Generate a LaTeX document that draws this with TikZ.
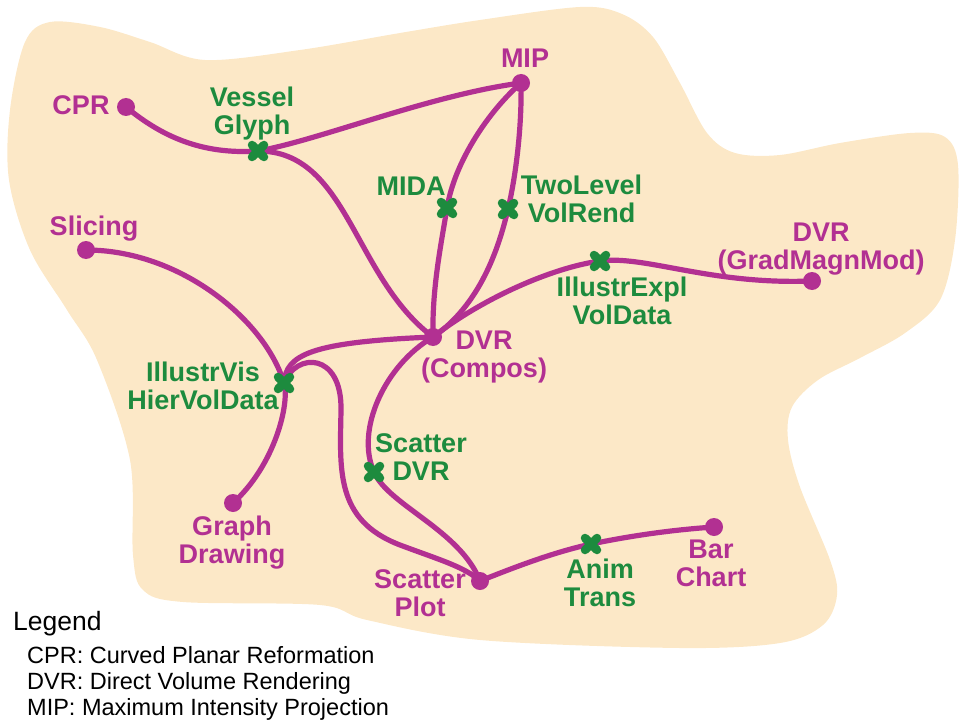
\documentclass[tikz,border=0pt]{standalone}
\usepackage{fontspec}
\setmainfont{Liberation Sans}
\definecolor{mag}{RGB}{178,48,146}
\definecolor{grn}{RGB}{29,139,62}
\definecolor{blobc}{RGB}{252,232,199}
\pgfdeclarelayer{blob}
\pgfdeclarelayer{edges}
\pgfsetlayers{blob,edges,main}
\begin{document}
\begin{tikzpicture}[x=1pt,y=-1pt,
  dot/.style={circle,fill=mag,inner sep=0pt,minimum size=18pt},
  xmark/.style={circle,inner sep=0pt,minimum size=20pt},
  xstroke/.style={draw=grn,line width=8.5pt,line cap=round},
  edge/.style={draw=mag,line width=5.2pt},
  lbl/.style={font=\fontsize{27}{28}\selectfont\bfseries,align=center,inner sep=0pt},
  mlbl/.style={lbl,text=mag},
  glbl/.style={lbl,text=grn},
  leg/.style={font=\fontsize{23.5}{26}\selectfont,anchor=base west,inner sep=0pt}]
\useasboundingbox (0,0) rectangle (960,722);
\begin{pgfonlayer}{blob}
\fill[blobc] plot[smooth cycle,tension=0.55] coordinates {
 (50,22) (100,27) (150,42) (205,60) (300,50) (400,33) (480,20) (580,7) (622,14)
 (653,37) (680,83) (707,133) (735,153) (780,155) (840,143) (910,133) (945,137)
 (958,165) (955,240) (940,300) (905,333) (860,358) (818,380) (792,407) (788,440)
 (800,487) (830,560) (837,595) (823,625) (780,643) (680,648) (480,640) (367,620)
 (320,605) (183,602) (143,590) (133,555) (130,460) (97,360) (67,310) (30,250)
 (9,180) (10,110) (25,42)};
\end{pgfonlayer}
% points
\node[dot] (cpr) at (126,107) {};
\node[xmark] (vg) at (258,151) {};
\node[dot] (mip) at (521,83) {};
\node[xmark] (mida) at (447,208) {};
\node[xmark] (tl) at (508,209) {};
\node[dot] (dvrc) at (433,337) {};
\node[xmark] (ie) at (600,261) {};
\node[dot] (gmm) at (812,281) {};
\node[dot] (slc) at (86,250) {};
\node[xmark] (iv) at (284,383) {};
\node[dot] (gd) at (233,503) {};
\node[xmark] (sd) at (374,472) {};
\node[dot] (sp) at (480,581) {};
\node[xmark] (at) at (591,544) {};
\node[dot] (bc) at (714,527) {};
\foreach \n in {vg,mida,tl,ie,iv,sd,at}{
  \draw[xstroke] ([shift={(-6,-6)}]\n.center) -- ([shift={(6,6)}]\n.center)
                 ([shift={(-6,6)}]\n.center) -- ([shift={(6,-6)}]\n.center);
}
% labels
\node[mlbl] (lcpr) at (81,109.4) {\strut CPR};
\node[glbl] (lvg) at (252,115.4) {\strut Vessel\\\strut Glyph};
\node[mlbl] (lmip) at (525,62.4) {\strut MIP};
\node[glbl] (lmida) at (411,189.4) {\strut MIDA};
\node[glbl] (ltl) at (581.5,202.4) {\strut TwoLevel\\\strut VolRend};
\node[glbl] (lie) at (622,304.4) {\strut IllustrExpl\\\strut VolData};
\node[mlbl] (lgmm) at (821,249.4) {\strut DVR\\\strut (GradMagnMod)};
\node[mlbl] (ldvrc) at (484,357.4) {\strut DVR\\\strut (Compos)};
\node[mlbl] (lslc) at (94,229.4) {\strut Slicing};
\node[glbl] (liv) at (203,389.4) {\strut IllustrVis\\\strut HierVolData};
\node[mlbl] (lgd) at (232,543.4) {\strut Graph\\\strut Drawing};
\node[glbl] (lsd) at (421,460.4) {\strut Scatter\\\strut DVR};
\node[mlbl] (lsp) at (420,596.4) {\strut Scatter\\\strut Plot};
\node[glbl] (lat) at (600,586.4) {\strut Anim\\\strut Trans};
\node[mlbl] (lbc) at (711,566.4) {\strut Bar\\\strut Chart};
% legend
\node[leg,font=\fontsize{26.5}{30}\selectfont] (legt) at (13,630) {Legend};
\node[leg] (leg1) at (27,663) {CPR: Curved Planar Reformation};
\node[leg] (leg2) at (27,689) {DVR: Direct Volume Rendering};
\node[leg] (leg3) at (27,715) {MIP: Maximum Intensity Projection};
% edges
\begin{pgfonlayer}{edges}
\draw[edge] (cpr.center) .. controls (160,135) and (200,155) .. (vg.center);
\draw[edge] (vg.center) .. controls (320,140) and (430,95) .. (mip.center);
\draw[edge] (vg.center) .. controls (348,151) and (353,277) .. (dvrc.center);
\draw[edge] (mip.center) .. controls (490,110) and (455,160) .. (mida.center)
  .. controls (440,250) and (432,290) .. (dvrc.center);
\draw[edge] (mip.center) .. controls (522,130) and (515,180) .. (tl.center)
  .. controls (499,248) and (480,305) .. (dvrc.center);
\draw[edge] (dvrc.center) .. controls (480,300) and (550,268) .. (ie.center)
  .. controls (645,255) and (710,285) .. (gmm.center);
\draw[edge] (slc.center) .. controls (180,250) and (265,320) .. (iv.center)
  .. controls (290,403) and (275,465) .. (gd.center);
\draw[edge] (iv.center) .. controls (286,355) and (310,342) .. (dvrc.center);
\draw[edge] (iv.center) .. controls (296,352) and (342,352) .. (341,410)
  .. controls (340,470) and (335,520) .. (400,545)
  .. controls (440,560) and (465,567) .. (sp.center);
\draw[edge] (dvrc.center) .. controls (385,365) and (355,430) .. (sd.center)
  .. controls (388,505) and (460,530) .. (sp.center);
\draw[edge] (sp.center) .. controls (520,565) and (555,552) .. (at.center)
  .. controls (630,536) and (670,530) .. (bc.center);
\end{pgfonlayer}
\end{tikzpicture}
\end{document}
